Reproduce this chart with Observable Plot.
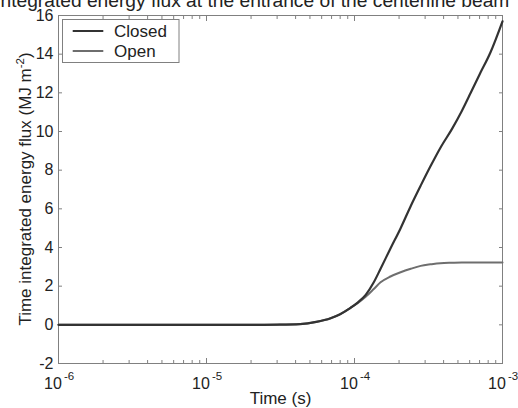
<!DOCTYPE html>
<html><head><meta charset="utf-8">
<script src="https://cdn.jsdelivr.net/npm/d3@7"></script>
<script src="https://cdn.jsdelivr.net/npm/@observablehq/plot@0.6"></script>
<style>
html,body{margin:0;padding:0;background:#fff;}
#wrap{position:relative;width:518px;height:408px;overflow:hidden;font-family:"Liberation Sans",Arial,sans-serif;}
#title{position:absolute;left:-51px;top:-10px;font-size:19.2px;line-height:22px;white-space:nowrap;color:#222;}
svg{display:block}
</style></head><body>
<div id="wrap"><div id="chart"></div><div id="title">Time integrated energy flux at the entrance of the centerline beam</div></div>
<script>
const time   = [1e-6, 2e-6, 5e-6, 1e-5, 2e-5, 3e-5, 4.3e-5, 5.5e-5, 6.9e-5, 8e-5, 9.4e-5, 1.05e-4, 1.19e-4, 1.35e-4, 1.5e-4, 1.75e-4, 2.05e-4, 2.4e-4, 2.8e-4, 3.26e-4, 3.8e-4, 4.57e-4, 5.3e-4, 6.1e-4, 7e-4, 8.3e-4, 1e-3];
const closed = [0, 0, 0, 0, 0, 0.01, 0.04, 0.15, 0.34, 0.55, 0.88, 1.15, 1.55, 2.2, 2.9, 3.95, 5.0, 6.15, 7.2, 8.2, 9.15, 10.15, 11.05, 12.0, 12.95, 14.1, 15.7];
const open   = [0, 0, 0, 0, 0, 0.01, 0.04, 0.15, 0.34, 0.55, 0.88, 1.12, 1.45, 1.85, 2.2, 2.5, 2.72, 2.9, 3.05, 3.13, 3.19, 3.21, 3.22, 3.22, 3.23, 3.23, 3.23];
const seriesNames = ["Closed", "Open"];
const seriesColors = ["#333333", "#6e6e6e"];
const yTicks = [-2, 0, 2, 4, 6, 8, 10, 12, 14, 16];
const decades = [1e-6, 1e-5, 1e-4, 1e-3];
const expLabels = ["-6", "-5", "-4", "-3"];
const minorTicks = [];
for (const d of decades.slice(0, 3)) for (let k = 2; k <= 9; k++) minorTicks.push(k * d);

const closedData = time.map((t, i) => ({t, v: closed[i]}));
const openData = time.map((t, i) => ({t, v: open[i]}));
const decadeData = decades.map((d, i) => ({d, e: expLabels[i]}));

const tickColor = "#808080";
const chart = Plot.plot({
  width: 518, height: 408,
  marginLeft: 58, marginRight: 16, marginTop: 15, marginBottom: 45,
  style: {fontFamily: "'Liberation Sans', Arial, sans-serif", fontSize: "16px", color: "#222", background: "transparent"},
  x: {type: "log", domain: [1e-6, 1e-3]},
  y: {domain: [-2, 16]},
  marks: [
    Plot.frame({stroke: tickColor}),
    Plot.axisX({anchor: "bottom", ticks: minorTicks, tickSize: -3, tickFormat: () => "", stroke: tickColor, label: null}),
    Plot.axisX({anchor: "bottom", ticks: decades, tickSize: -5, tickFormat: () => "", stroke: tickColor, label: null}),
    Plot.axisX({anchor: "top", ticks: minorTicks, tickSize: -3, tickFormat: () => "", stroke: tickColor, label: null}),
    Plot.axisX({anchor: "top", ticks: decades, tickSize: -5, tickFormat: () => "", stroke: tickColor, label: null}),
    Plot.axisY({anchor: "left", ticks: yTicks, tickSize: -4, tickPadding: 9, tickFormat: d => String(d), stroke: tickColor, fill: "#222", fontSize: 16, label: null}),
    Plot.axisY({anchor: "right", ticks: yTicks, tickSize: -4, tickFormat: () => "", stroke: tickColor, label: null}),
    Plot.text(decadeData, {x: "d", frameAnchor: "bottom", text: () => "10", textAnchor: "end", dx: 3.4, dy: 25, lineAnchor: "bottom", fontSize: 16, fill: "#222"}),
    Plot.text(decadeData, {x: "d", frameAnchor: "bottom", text: "e", textAnchor: "start", dx: 5.5, dy: 16, lineAnchor: "bottom", fontSize: 11.5, fill: "#222"}),
    Plot.text(["Time (s)"], {frameAnchor: "bottom", dy: 40, lineAnchor: "bottom", fontSize: 17, fill: "#222"}),
    Plot.line(openData, {x: "t", y: "v", stroke: seriesColors[1], strokeWidth: 2, curve: "monotone-x"}),
    Plot.line(closedData, {x: "t", y: "v", stroke: seriesColors[0], strokeWidth: 2.2, curve: "monotone-x"})
  ]
});
document.getElementById("chart").appendChild(chart);

const svg = d3.select(chart);
// y-axis label with superscript
const yl = svg.append("text")
  .attr("transform", "translate(31,189) rotate(-90)")
  .attr("text-anchor", "middle")
  .attr("font-size", 17)
  .attr("fill", "#222");
yl.append("tspan").text("Time integrated energy flux (MJ m");
yl.append("tspan").attr("font-size", 11.5).attr("dy", -7).text("-2");
yl.append("tspan").attr("dy", 7).text(")");

// legend
const lg = svg.append("g").attr("text-anchor", "start");
lg.append("rect").attr("x", 62.5).attr("y", 19.5).attr("width", 116.5).attr("height", 43)
  .attr("fill", "#fff").attr("stroke", tickColor);
seriesNames.forEach((name, i) => {
  const yy = 31 + i * 20;
  lg.append("line").attr("x1", 72.7).attr("x2", 103.3).attr("y1", yy).attr("y2", yy)
    .attr("stroke", seriesColors[i]).attr("stroke-width", 2);
  lg.append("text").attr("x", 114).attr("y", yy + 5.8).attr("font-size", 17).attr("fill", "#222").text(name);
});
</script>
</body></html>
